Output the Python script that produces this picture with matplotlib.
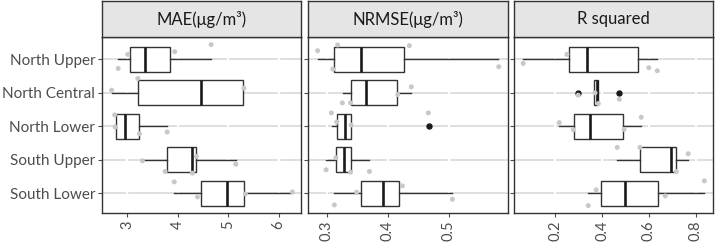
import matplotlib
matplotlib.use("Agg")
import matplotlib.pyplot as plt
import numpy as np

plt.rcParams['font.family'] = ['Lato', 'DejaVu Sans']

categories = ["North Upper", "North Central", "North Lower", "South Upper", "South Lower"]
titles = ["MAE(\u03bcg/m\u00b3)", "NRMSE(\u03bcg/m\u00b3)", "R squared"]

# box statistics per panel: whisker low, q1, median, q3, whisker high
mae_whislo = [2.82, 2.69, 2.75, 3.30, 3.93]
mae_q1     = [3.05, 3.22, 2.78, 3.78, 4.47]
mae_med    = [3.36, 4.47, 2.95, 4.28, 4.97]
mae_q3     = [3.85, 5.29, 3.24, 4.37, 5.32]
mae_whishi = [4.65, 5.29, 3.78, 5.15, 6.27]
mae_fliers = [[], [], [], [], []]

nrmse_whislo = [0.285, 0.326, 0.308, 0.299, 0.3125]
nrmse_q1     = [0.3125, 0.340, 0.317, 0.316, 0.357]
nrmse_med    = [0.356, 0.364, 0.330, 0.328, 0.392]
nrmse_q3     = [0.426, 0.416, 0.339, 0.339, 0.419]
nrmse_whishi = [0.581, 0.438, 0.340, 0.369, 0.505]
nrmse_fliers = [[], [], [0.467], [], []]

r2_whislo = [0.063, 0.367, 0.217, 0.465, 0.341]
r2_q1     = [0.260, 0.367, 0.281, 0.563, 0.397]
r2_med    = [0.336, 0.378, 0.348, 0.694, 0.498]
r2_q3     = [0.552, 0.384, 0.491, 0.714, 0.638]
r2_whishi = [0.635, 0.384, 0.566, 0.766, 0.836]
r2_fliers = [[], [0.298, 0.4735], [], [], []]

# jittered observations: value, vertical jitter (category units)
mae_pts = [
    [(2.82, 0.27), (3.01, -0.15), (3.94, -0.23), (4.66, -0.44)],
    [(2.69, -0.08), (3.21, -0.43), (5.31, -0.14)],
    [(2.75, -0.34), (2.76, 0.02), (3.24, 0.22), (3.79, 0.17)],
    [(3.30, 0.03), (3.75, 0.35), (4.29, 0.40), (4.37, -0.10), (5.15, 0.13)],
    [(3.93, -0.34), (4.39, 0.11), (5.34, 0.02), (6.27, -0.04)],
]
nrmse_pts = [
    [(0.285, -0.26), (0.318, -0.43), (0.310, 0.29), (0.4355, -0.41), (0.582, 0.22)],
    [(0.4387, -0.18), (0.3256, 0.30), (0.339, 0.30), (0.4164, 0.05)],
    [(0.3076, -0.40), (0.3165, -0.13), (0.340, -0.04), (0.4666, -0.40)],
    [(0.299, 0.30), (0.315, -0.06), (0.339, 0.37), (0.370, 0.35)],
    [(0.3125, 0.35), (0.349, -0.03), (0.424, -0.22), (0.506, 0.18)],
]
r2_pts = [
    [(0.063, 0.12), (0.25, -0.15), (0.60, 0.25), (0.636, 0.34)],
    [(0.298, 0.07), (0.37, 0.0), (0.384, 0.32), (0.4735, 0.19)],
    [(0.217, -0.11), (0.277, 0.10), (0.494, 0.09), (0.5675, -0.27)],
    [(0.465, -0.37), (0.562, -0.37), (0.717, 0.35), (0.768, -0.18)],
    [(0.341, 0.37), (0.375, -0.10), (0.670, 0.08), (0.837, -0.37)],
]

panels = [
    (mae_whislo, mae_q1, mae_med, mae_q3, mae_whishi, mae_fliers, mae_pts, (2.505, 6.447), [3, 4, 5, 6], ["3", "4", "5", "6"]),
    (nrmse_whislo, nrmse_q1, nrmse_med, nrmse_q3, nrmse_whishi, nrmse_fliers, nrmse_pts, (0.2693, 0.5967), [0.3, 0.4, 0.5], ["0.3", "0.4", "0.5"]),
    (r2_whislo, r2_q1, r2_med, r2_q3, r2_whishi, r2_fliers, r2_pts, (0.025, 0.874), [0.2, 0.4, 0.6, 0.8], ["0.2", "0.4", "0.6", "0.8"]),
]

W, H = 715, 243
fig = plt.figure(figsize=(W / 100, H / 100), dpi=100)

lefts = [102.3, 308.0, 514.3]
rights = [301.3, 507.7, 713.0]
top_px, bot_px, strip_top = 37.3, 213.3, 1.0

edge = "#333333"
tickc = "#4d4d4d"
positions = np.arange(len(categories))

for i, (wl, q1, md, q3, wh, fl, pts, xlim, ticks, tlabels) in enumerate(panels):
    l, r = lefts[i], rights[i]
    ax = fig.add_axes([l / W, (H - bot_px) / H, (r - l) / W, (bot_px - top_px) / H])
    stats = []
    for k in range(len(categories)):
        stats.append(dict(whislo=wl[k], q1=q1[k], med=md[k], q3=q3[k], whishi=wh[k], fliers=fl[k]))
    ax.bxp(stats, positions=positions, orientation='horizontal', widths=0.75,
           patch_artist=True, showcaps=False,
           boxprops=dict(facecolor="white", edgecolor=edge, linewidth=1.0),
           whiskerprops=dict(color=edge, linewidth=1.0),
           medianprops=dict(color="#1a1a1a", linewidth=1.9),
           flierprops=dict(marker='o', markerfacecolor="#1a1a1a", markeredgecolor="#1a1a1a",
                           markersize=3.6, linestyle='none'),
           zorder=2)
    for k, plist in enumerate(pts):
        xs = [p[0] for p in plist]
        ys = [positions[k] + p[1] for p in plist]
        ax.scatter(xs, ys, s=13, color="#c8c8c8", edgecolors='none', zorder=4)
    for k in positions:
        ax.axhline(k, color="#d6d6d6", linewidth=1.1, zorder=0.5)
    for t in ticks:
        ax.axvline(t, color="white", linewidth=1.6, zorder=0.6)
    ax.set_xlim(*xlim)
    ax.set_ylim(len(categories) - 1 + 0.6, -0.66)
    ax.set_xticks(ticks)
    ax.set_xticklabels(tlabels, rotation=90, fontsize=10.5, color=tickc)
    ax.set_yticks(positions)
    if i == 0:
        ax.set_yticklabels(categories, fontsize=11, color=tickc)
    else:
        ax.set_yticklabels([])
        ax.tick_params(axis='y', length=0)
    ax.tick_params(axis='both', color=tickc, length=3, width=0.8, pad=2)
    for s in ax.spines.values():
        s.set_color(edge)
        s.set_linewidth(1.0)
    ax.set_facecolor("white")

    sax = fig.add_axes([l / W, (H - top_px) / H, (r - l) / W, (top_px - strip_top) / H])
    sax.set_facecolor("#e5e5e5")
    sax.set_xticks([])
    sax.set_yticks([])
    for s in sax.spines.values():
        s.set_color(edge)
        s.set_linewidth(1.0)
    sax.text(0.5, 0.5, titles[i], ha='center', va='center', fontsize=12, color="#1a1a1a",
             transform=sax.transAxes)

fig.savefig("out.png", dpi=100)
